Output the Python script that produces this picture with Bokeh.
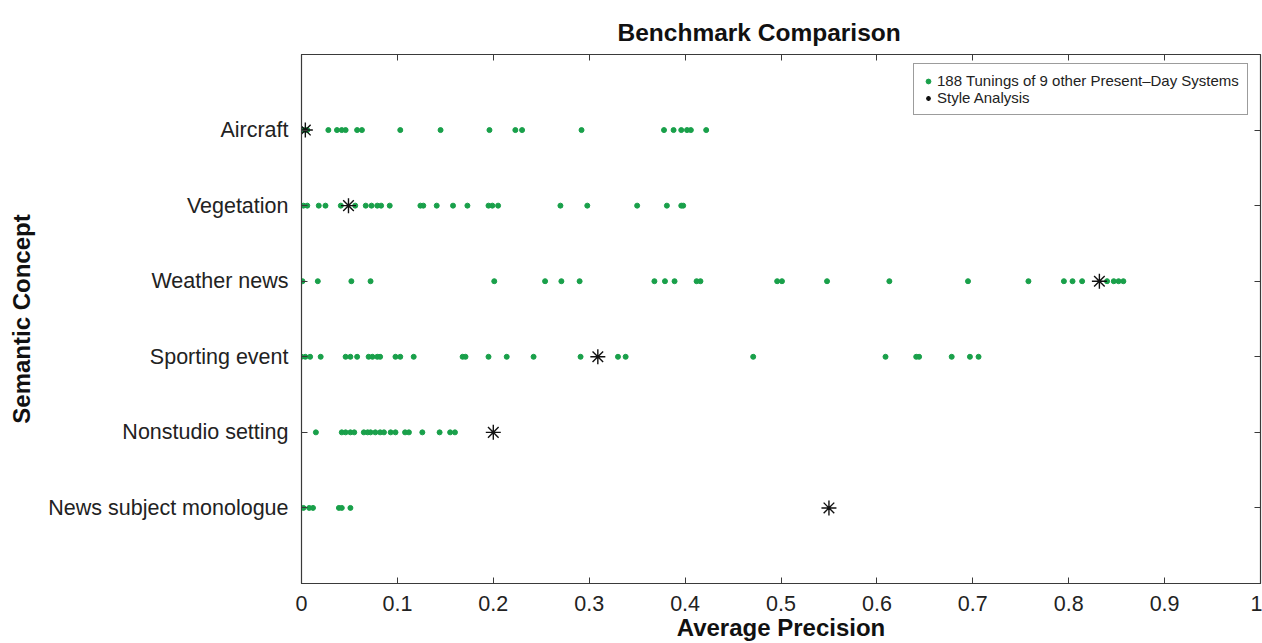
from bokeh.plotting import figure
from bokeh.models import FixedTicker, LinearAxis, Range1d, Legend, LegendItem
from bokeh.embed import file_html
from bokeh.resources import INLINE

# ---- data ----
concepts = ["News subject monologue", "Nonstudio setting", "Sporting event",
            "Weather news", "Vegetation", "Aircraft"]

news_subject_ap = [0.002, 0.008, 0.012, 0.039, 0.042, 0.051]
nonstudio_ap = [0.015, 0.042, 0.046, 0.051, 0.055, 0.065, 0.069, 0.072, 0.077, 0.082,
                0.086, 0.093, 0.098, 0.108, 0.112, 0.126, 0.144, 0.155, 0.160]
sporting_ap = [0.000, 0.004, 0.009, 0.020, 0.046, 0.051, 0.058, 0.070, 0.074, 0.079,
               0.082, 0.098, 0.103, 0.117, 0.168, 0.171, 0.195, 0.214, 0.242, 0.291,
               0.330, 0.338, 0.471, 0.609, 0.641, 0.644, 0.678, 0.697, 0.706]
weather_ap = [0.001, 0.017, 0.052, 0.072, 0.201, 0.254, 0.271, 0.290, 0.368, 0.379,
              0.389, 0.412, 0.416, 0.496, 0.501, 0.548, 0.613, 0.695, 0.758, 0.795,
              0.804, 0.814, 0.840, 0.847, 0.852, 0.857]
vegetation_ap = [0.002, 0.006, 0.018, 0.025, 0.041, 0.056, 0.067, 0.073, 0.079, 0.083,
                 0.092, 0.124, 0.127, 0.141, 0.158, 0.173, 0.195, 0.199, 0.205, 0.270,
                 0.298, 0.350, 0.381, 0.396, 0.398]
aircraft_ap = [0.002, 0.006, 0.028, 0.037, 0.042, 0.046, 0.058, 0.063, 0.103, 0.145,
               0.196, 0.223, 0.230, 0.292, 0.378, 0.388, 0.396, 0.402, 0.406, 0.422]

style_analysis_ap = [0.550, 0.200, 0.309, 0.832, 0.049, 0.004]

x_ticks = [0, 0.1, 0.2, 0.3, 0.4, 0.5, 0.6, 0.7, 0.8, 0.9, 1]
x_tick_labels = ["0", "0.1", "0.2", "0.3", "0.4", "0.5", "0.6", "0.7", "0.8", "0.9", "1"]

legend_other = "188 Tunings of 9 other Present\u2013Day Systems"
legend_style = "Style Analysis"

# ---- build point lists ----
tuning_series = [news_subject_ap, nonstudio_ap, sporting_ap, weather_ap, vegetation_ap, aircraft_ap]
dot_x, dot_y = [], []
for i, vals in enumerate(tuning_series):
    dot_x.extend(vals)
    dot_y.extend([i + 1] * len(vals))
star_x = list(style_analysis_ap)
star_y = [i + 1 for i in range(len(concepts))]
y_ticks = [i + 1 for i in range(len(concepts))]

FONT = "Liberation Sans"
FRAME = "#3a3a3a"

p = figure(width=1262, height=643, output_backend="svg", toolbar_location=None,
           x_range=Range1d(0, 1), y_range=Range1d(0, 7),
           min_border_left=301, min_border_right=2, min_border_top=54, min_border_bottom=60)
p.grid.visible = False
p.outline_line_color = FRAME
p.outline_line_width = 1.2

p.title.text = "Benchmark Comparison"
p.title.align = "left"
p.title.offset = 316
p.title.text_font = FONT
p.title.text_font_size = "24.5px"
p.title.text_font_style = "bold"
p.title.text_color = "#111111"
p.title.standoff = 18

xa = p.xaxis[0]
xa.ticker = FixedTicker(ticks=x_ticks)
xa.major_label_overrides = {t: l for t, l in zip(x_ticks, x_tick_labels)}
xa.axis_label = "Average Precision"
ya = p.yaxis[0]
ya.ticker = FixedTicker(ticks=y_ticks)
ya.major_label_overrides = {t: c for t, c in zip(y_ticks, concepts)}
ya.axis_label = "Semantic Concept"

for ax in (xa, ya):
    ax.major_tick_in = 6
    ax.major_tick_out = 0
    ax.minor_tick_line_color = None
    ax.axis_line_color = FRAME
    ax.major_tick_line_color = FRAME
    ax.major_label_text_font = FONT
    ax.major_label_text_font_size = "21.5px"
    ax.major_label_text_color = "#222222"
    ax.axis_label_text_font = FONT
    ax.axis_label_text_font_size = "24px"
    ax.axis_label_text_font_style = "bold"
    ax.axis_label_text_color = "#111111"
xa.major_label_standoff = 12
xa.axis_label_standoff = 0
ya.major_label_standoff = 13
ya.axis_label_standoff = 10

top_ax = LinearAxis(ticker=FixedTicker(ticks=x_ticks), major_label_text_font_size="1px",
                    major_label_text_color=None,
                    major_label_standoff=0, major_tick_in=6, major_tick_out=0,
                    minor_tick_line_color=None, axis_line_color=None,
                    major_tick_line_color=FRAME)
right_ax = LinearAxis(ticker=FixedTicker(ticks=y_ticks), major_label_text_font_size="1px",
                      major_label_text_color=None,
                      major_label_standoff=0, major_tick_in=6, major_tick_out=0,
                      minor_tick_line_color=None, axis_line_color=None,
                      major_tick_line_color=FRAME)
p.add_layout(top_ax, "above")
p.add_layout(right_ax, "right")

r_dots = p.scatter(dot_x, dot_y, marker="circle", size=5, fill_color="#19a04a",
                   line_color="#19a04a")
r_star = p.scatter(star_x, star_y, marker="asterisk", size=15, line_color="#111111",
                   line_width=1.4)

legend = Legend(items=[LegendItem(label=legend_other, renderers=[r_dots]),
                       LegendItem(label=legend_style, renderers=[r_star])],
                location=(612, 468), orientation="vertical",
                label_text_font=FONT, label_text_font_size="15px", label_text_color="#222222",
                glyph_width=12, glyph_height=16, label_height=16, label_standoff=3,
                spacing=0, padding=8, margin=0,
                border_line_color=FRAME, border_line_width=1.2,
                background_fill_color="white", background_fill_alpha=1.0)
p.add_layout(legend, "center")

open("out.html", "w").write(file_html(p, INLINE))
